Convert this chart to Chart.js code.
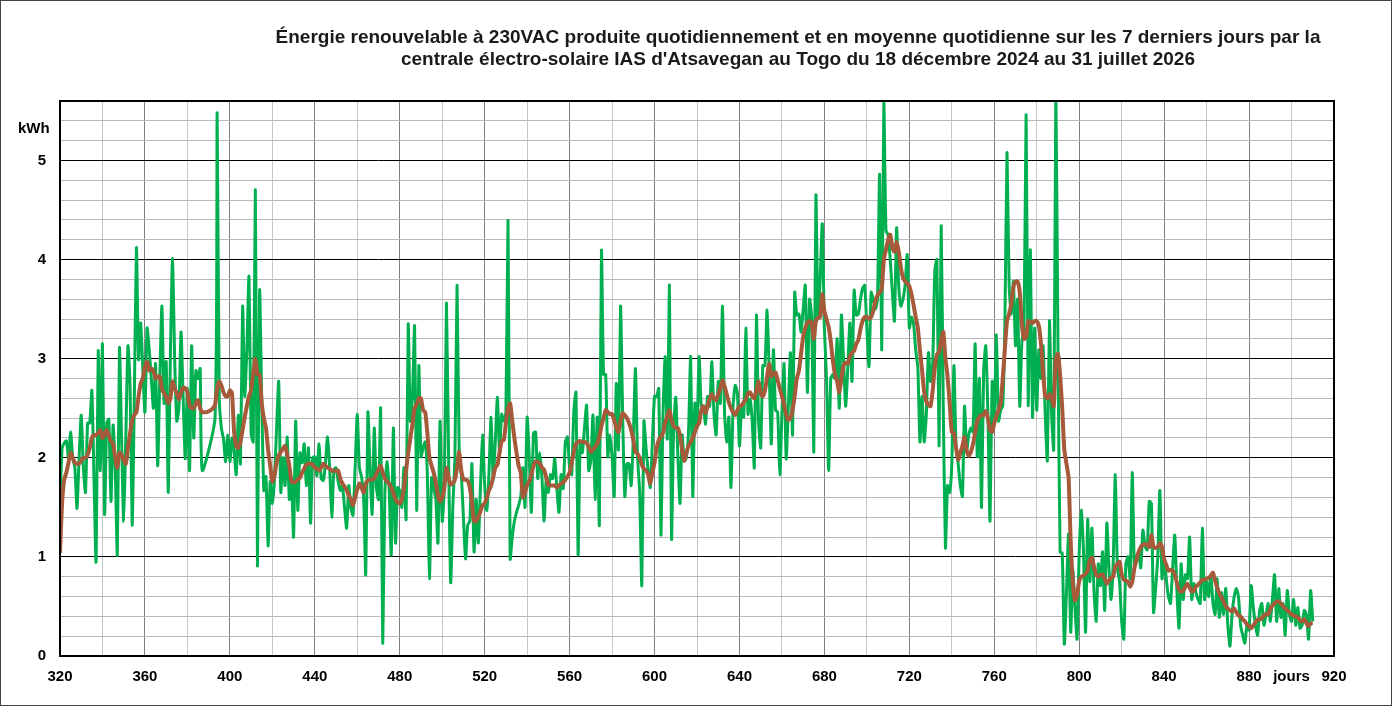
<!DOCTYPE html>
<html>
  <head>
    <meta charset="utf-8">
    <title>Énergie renouvelable IAS Atsavegan</title>
    <script src="https://cdn.jsdelivr.net/npm/chart.js@4.4.1/dist/chart.umd.min.js"></script>
    <style>
      body { margin: 0; background: #fff; }
      #wrap { position: relative; width: 1392px; height: 707px; }
      #frame { position: absolute; left: 0; top: 0; width: 1392px; height: 706px; box-sizing: border-box; border: 1px solid #444; pointer-events: none; }
      #title { position: absolute; left: 148px; top: 26px; width: 1300px; text-align: center;
               font: bold 19px "Liberation Sans", Arial, sans-serif; line-height: 22.4px; color: #1a1a1a; }
      #unit { position: absolute; left: 18px; top: 119px; font: bold 15px "Liberation Sans", Arial, sans-serif; line-height: 18px; color: #000; }
    </style>
  </head>
  <body>
    <div id="wrap">
      <canvas id="energie"></canvas>
      <div id="title">Énergie renouvelable à 230VAC produite quotidiennement et en moyenne quotidienne sur les 7 derniers jours par la<br>centrale électro-solaire IAS d'Atsavegan au Togo du 18 décembre 2024 au 31 juillet 2026</div>
      <div id="unit">kWh</div>
      <div id="frame"></div>
    </div>
    <script>
      // jour de départ de la série (axe des x = numéro du jour)
      var firstDay = 320;

      // énergie produite chaque jour (kWh), null = pas de mesure
      var daily = [
        1.54, 2.10, 2.15, 2.17, 2.00, 2.26, 2.00, 1.90, 1.49, 2.00, // 320
        2.43, 1.90, 1.65, 2.35, 2.35, 2.68, 1.80, 0.95, 3.08, 1.87, // 330
        3.15, 1.43, 2.35, 2.39, 1.56, 2.33, 1.90, 1.02, 3.11, 2.19, // 340
        1.36, 2.20, 3.13, 2.73, 1.32, 2.60, 4.12, 2.99, 3.36, 2.90, // 350
        2.46, 3.31, 3.10, 2.80, 2.50, 2.95, 1.92, 2.80, 3.53, 2.55, // 360
        2.97, 1.65, 3.06, 4.01, 3.00, 2.37, 2.50, 3.27, 2.60, 1.99, // 370
        2.70, 1.87, 3.13, 2.20, 2.88, 2.80, 2.90, 1.87, null, null, // 380
        null, null, null, 2.40, 5.48, 2.60, 2.30, 2.19, 1.96, 2.23, // 390
        1.96, 2.20, 2.06, 1.83, 2.43, 1.94, 3.53, 2.62, 3.09, 3.83, // 400
        2.25, 2.16, 4.70, 0.91, 3.69, 2.60, 1.67, 1.81, 1.11, 1.76, // 410
        1.54, 1.78, 2.30, 2.77, 1.65, 2.00, 1.72, 2.21, 1.58, 1.80, // 420
        1.20, 2.37, 1.47, 2.05, 1.95, 2.14, 1.72, 2.10, 1.34, 2.00, // 430
        2.01, 1.82, 2.14, 1.79, 1.77, 1.94, 2.21, 1.90, 1.40, 1.88, // 440
        1.90, 1.76, 1.67, 1.72, 1.50, 1.29, 1.72, 1.49, 1.42, 1.90, // 450
        2.44, 1.90, 1.81, 1.60, 0.82, 2.46, 1.90, 1.43, 2.30, 1.70, // 460
        1.58, 2.50, 0.13, 1.65, 1.96, 1.70, 1.02, 2.30, 1.14, 1.70, // 470
        1.67, 1.50, 1.90, 1.38, 3.35, 2.37, 2.62, 3.33, 1.47, 2.93, // 480
        2.01, 2.10, 2.16, 1.83, 0.78, 1.80, 1.70, 1.58, 1.14, 2.37, // 490
        1.36, 1.70, 3.56, 2.01, 0.74, 1.50, 2.01, 3.74, 2.05, 1.83, // 500
        1.40, 0.98, 1.32, 1.36, 1.94, 1.05, 1.58, 1.14, 1.69, 2.23, // 510
        1.72, 1.47, 1.83, 2.41, 1.79, 2.16, 2.61, 2.05, 2.44, 2.37, // 520
        2.46, 4.39, 0.98, 1.20, 1.36, 1.45, 1.52, 1.61, 1.90, 1.50, // 530
        2.41, 2.00, 1.45, 2.25, 2.26, 1.79, 2.05, 1.79, 1.36, 1.79, // 540
        1.65, 1.83, 1.79, 1.99, 1.69, 1.45, 1.83, 1.69, 2.16, 2.21, // 550
        1.90, 1.83, 2.48, 2.66, 1.02, 2.16, 2.05, 2.30, 2.53, 1.87, // 560
        1.97, 2.43, 1.58, 2.41, 1.32, 4.09, 2.84, 2.84, 2.01, 2.23, // 570
        2.01, 1.61, 2.75, 2.08, 3.53, 2.41, 1.61, 1.94, 1.94, 1.72, // 580
        2.20, 2.90, 2.01, 1.65, 0.71, 2.37, 2.10, 1.87, 1.70, 2.16, // 590
        2.62, 2.62, 2.70, 1.22, 2.44, 3.02, 2.19, 3.74, 1.18, 2.30, // 600
        2.61, 2.01, 1.54, 2.23, 1.97, 2.00, 2.26, 3.02, 1.61, 2.55, // 610
        2.30, 3.02, 2.52, 2.52, 2.34, 2.62, 2.52, 2.97, 2.44, 2.23, // 620
        2.77, 2.55, 3.53, 2.44, 2.16, 2.41, 1.70, 2.52, 2.73, 2.66, // 630
        2.12, 2.50, 2.41, 3.31, 2.44, 2.59, 2.37, 1.90, 3.44, 2.37, // 640
        2.10, 2.93, 2.93, 3.49, 2.88, 2.14, 3.09, 2.48, 2.46, 1.83, // 650
        2.44, 2.95, 1.99, 2.50, 3.06, 2.23, 3.67, 3.44, 3.45, 3.27, // 660
        3.50, 3.74, 2.66, 3.60, 3.42, 2.06, 4.65, 3.42, 3.80, 4.36, // 670
        3.30, 2.80, 1.87, 2.80, 2.84, 2.80, 3.20, 2.50, 3.44, 3.00, // 680
        2.52, 2.90, 3.36, 2.77, 3.69, 3.44, 3.45, 3.60, 3.71, 3.74, // 690
        3.30, 2.92, 3.67, 3.60, 3.50, 3.60, 4.86, 3.09, 5.58, 4.29, // 700
        4.25, 4.00, 3.67, 3.38, 4.32, 3.74, 3.53, 3.60, 3.74, 4.05, // 710
        3.31, 3.42, 3.35, 3.09, 2.91, 2.16, 2.62, 2.16, 2.44, 3.06, // 720
        2.77, 2.95, 3.89, 4.00, 2.12, 4.34, 2.48, 1.09, 1.72, 1.65, // 730
        1.94, 2.93, 2.12, 1.94, 1.72, 1.61, 2.52, 2.08, 2.23, 2.30, // 740
        2.26, 3.15, 2.01, 2.80, 1.50, 2.88, 3.13, 2.44, 1.36, 2.77, // 750
        2.41, 3.24, 2.37, 2.48, 2.52, 3.35, 5.08, 3.74, 3.45, 3.78, // 760
        3.13, 3.60, 2.52, 3.17, 3.31, 5.46, 2.53, 4.10, 2.41, 3.31, // 770
        2.48, 3.09, 2.80, 3.13, 2.44, 1.97, 3.38, 2.44, 2.08, 5.70, // 780
        3.13, 1.05, 1.04, 0.12, 0.64, 1.23, 0.24, 0.86, 0.49, 0.17, // 790
        1.04, 1.47, 1.07, 0.24, 1.38, 0.75, 1.29, 0.64, 0.35, 0.93, // 800
        0.71, 1.05, 0.46, 1.34, 0.90, 0.57, 0.93, 1.83, 0.89, 0.75, // 810
        0.35, 0.17, 0.93, 1.00, 0.78, 1.85, 0.89, 1.00, 1.04, 0.89, // 820
        1.27, 1.11, 1.07, 1.56, 1.54, 0.44, 0.68, 1.00, 1.67, 0.78, // 830
        0.98, 0.78, 0.60, 0.53, 0.89, 1.22, 0.66, 0.28, 0.93, 0.57, // 840
        0.82, 0.78, 1.20, 0.57, 0.73, 0.64, 0.57, 0.53, 1.29, 0.57, // 850
        0.75, 0.60, 0.82, 0.53, 0.42, 0.78, 0.39, 0.64, 0.42, 0.68, // 860
        0.31, 0.10, 0.42, 0.60, 0.68, 0.60, 0.31, 0.21, 0.13, 0.31, // 870
        0.26, 0.71, 0.49, 0.31, 0.21, 0.46, 0.53, 0.31, 0.42, 0.53, // 880
        0.35, 0.57, 0.82, 0.35, 0.68, 0.39, 0.53, 0.21, 0.66, 0.42, // 890
        0.35, 0.57, 0.31, 0.49, 0.28, 0.31, 0.46, 0.42, 0.17, 0.66, // 900
        0.35                                                        // 910
      ];

      var weekly = [
        1.04, 1.55, 1.78, 1.85, 1.95, 2.05, 2.00, 1.95, 1.94, 1.94, // 320
        1.97, 2.00, 2.00, 2.03, 2.10, 2.20, 2.23, 2.23, 2.25, 2.28, // 330
        2.20, 2.24, 2.28, 2.22, 2.17, 2.14, 2.00, 1.90, 2.05, 2.03, // 340
        1.98, 1.94, 2.10, 2.25, 2.38, 2.43, 2.46, 2.62, 2.75, 2.80, // 350
        2.92, 2.97, 2.88, 2.90, 2.88, 2.80, 2.82, 2.82, 2.70, 2.65, // 360
        2.62, 2.55, 2.60, 2.77, 2.70, 2.65, 2.59, 2.66, 2.71, 2.70, // 370
        2.66, 2.53, 2.50, 2.50, 2.55, 2.58, 2.50, 2.46, 2.46, 2.46, // 380
        2.47, 2.48, 2.50, 2.53, 2.70, 2.77, 2.73, 2.66, 2.62, 2.62, // 390
        2.68, 2.65, 2.26, 2.12, 2.10, 2.16, 2.28, 2.41, 2.52, 2.62, // 400
        2.68, 2.85, 3.00, 2.84, 2.84, 2.55, 2.40, 2.30, 2.08, 1.92, // 410
        1.76, 1.82, 1.95, 2.02, 2.06, 2.09, 2.12, 2.03, 1.92, 1.76, // 420
        1.75, 1.76, 1.78, 1.80, 1.85, 1.89, 1.93, 1.94, 1.94, 1.93, // 430
        1.90, 1.89, 1.87, 1.90, 1.94, 1.92, 1.90, 1.89, 1.87, 1.87, // 440
        1.87, 1.87, 1.79, 1.74, 1.71, 1.67, 1.62, 1.58, 1.52, 1.60, // 450
        1.68, 1.74, 1.70, 1.65, 1.74, 1.77, 1.78, 1.78, 1.79, 1.84, // 460
        1.88, 1.92, 1.85, 1.79, 1.76, 1.74, 1.70, 1.64, 1.58, 1.55, // 470
        1.54, 1.58, 1.70, 1.88, 2.05, 2.20, 2.34, 2.50, 2.54, 2.60, // 480
        2.60, 2.48, 2.46, 2.25, 2.00, 1.92, 1.85, 1.75, 1.62, 1.56, // 490
        1.60, 1.70, 1.90, 1.80, 1.73, 1.74, 1.78, 1.90, 2.06, 1.87, // 500
        1.78, 1.78, 1.77, 1.70, 1.55, 1.36, 1.36, 1.40, 1.46, 1.52, // 510
        1.54, 1.60, 1.67, 1.72, 1.80, 1.90, 1.93, 2.05, 2.17, 2.18, // 520
        2.35, 2.50, 2.55, 2.37, 2.20, 2.05, 1.92, 1.85, 1.60, 1.65, // 530
        1.73, 1.76, 1.83, 1.92, 1.96, 1.96, 1.94, 1.90, 1.88, 1.80, // 540
        1.73, 1.72, 1.72, 1.72, 1.70, 1.72, 1.74, 1.75, 1.78, 1.81, // 550
        1.85, 1.95, 2.06, 2.14, 2.16, 2.17, 2.16, 2.16, 2.15, 2.11, // 560
        2.06, 2.08, 2.11, 2.14, 2.21, 2.32, 2.40, 2.48, 2.46, 2.44, // 570
        2.44, 2.38, 2.30, 2.26, 2.37, 2.45, 2.43, 2.40, 2.35, 2.28, // 580
        2.18, 2.06, 2.04, 2.00, 1.93, 1.89, 1.87, 1.83, 1.74, 1.85, // 590
        1.95, 2.10, 2.18, 2.21, 2.25, 2.35, 2.42, 2.48, 2.38, 2.32, // 600
        2.30, 2.30, 2.22, 2.08, 1.97, 2.05, 2.12, 2.16, 2.20, 2.26, // 610
        2.32, 2.35, 2.48, 2.52, 2.45, 2.52, 2.60, 2.64, 2.60, 2.58, // 620
        2.64, 2.70, 2.78, 2.72, 2.64, 2.56, 2.50, 2.46, 2.43, 2.48, // 630
        2.52, 2.53, 2.56, 2.59, 2.65, 2.66, 2.62, 2.60, 2.68, 2.77, // 640
        2.65, 2.62, 2.68, 2.82, 2.95, 2.82, 2.85, 2.86, 2.78, 2.70, // 650
        2.62, 2.54, 2.44, 2.38, 2.40, 2.48, 2.62, 2.80, 2.88, 3.05, // 660
        3.22, 3.31, 3.36, 3.38, 3.36, 3.20, 3.38, 3.41, 3.42, 3.65, // 670
        3.48, 3.40, 3.32, 3.17, 2.98, 2.84, 2.77, 2.66, 2.80, 2.93, // 680
        2.96, 2.95, 3.02, 3.06, 3.08, 3.15, 3.19, 3.30, 3.38, 3.42, // 690
        3.42, 3.40, 3.42, 3.48, 3.58, 3.64, 3.67, 3.70, 4.00, 4.10, // 700
        4.20, 4.25, 4.12, 4.08, 4.18, 4.08, 3.92, 3.82, 3.78, 3.76, // 710
        3.73, 3.65, 3.54, 3.42, 3.31, 3.08, 2.88, 2.66, 2.57, 2.53, // 720
        2.52, 2.68, 2.92, 3.04, 3.07, 3.18, 3.27, 3.00, 2.82, 2.55, // 730
        2.26, 2.25, 2.10, 1.98, 2.05, 2.12, 2.21, 2.07, 2.02, 2.06, // 740
        2.14, 2.26, 2.37, 2.41, 2.43, 2.43, 2.47, 2.40, 2.28, 2.26, // 750
        2.35, 2.42, 2.48, 2.55, 2.80, 3.10, 3.38, 3.45, 3.55, 3.72, // 760
        3.78, 3.78, 3.67, 3.35, 3.20, 3.22, 3.38, 3.37, 3.36, 3.38, // 770
        3.38, 3.33, 3.15, 2.85, 2.62, 2.60, 2.64, 2.60, 2.52, 3.00, // 780
        3.05, 2.84, 2.50, 2.08, 1.94, 1.80, 1.15, 0.75, 0.56, 0.62, // 790
        0.76, 0.80, 0.81, 0.83, 0.86, 0.97, 0.99, 0.90, 0.82, 0.80, // 800
        0.82, 0.82, 0.78, 0.73, 0.76, 0.79, 0.80, 0.90, 0.93, 0.95, // 810
        0.82, 0.77, 0.76, 0.75, 0.70, 0.75, 0.89, 0.97, 1.05, 1.10, // 820
        1.12, 1.13, 1.12, 1.10, 1.22, 1.10, 1.09, 1.10, 1.14, 1.10, // 830
        0.98, 0.92, 0.86, 0.87, 0.86, 0.82, 0.74, 0.67, 0.65, 0.66, // 840
        0.70, 0.73, 0.69, 0.65, 0.66, 0.70, 0.72, 0.74, 0.77, 0.77, // 850
        0.78, 0.79, 0.81, 0.84, 0.76, 0.69, 0.63, 0.59, 0.55, 0.50, // 860
        0.48, 0.46, 0.45, 0.48, 0.44, 0.41, 0.40, 0.37, 0.35, 0.32, // 870
        0.30, 0.28, 0.31, 0.34, 0.37, 0.37, 0.38, 0.41, 0.42, 0.42, // 880
        0.47, 0.51, 0.53, 0.55, 0.55, 0.53, 0.50, 0.48, 0.46, 0.44, // 890
        0.42, 0.41, 0.40, 0.39, 0.36, 0.35, 0.37, 0.33, 0.30, 0.33, // 900
        0.33                                                        // 910
      ];

      // axes
      var xMin = 320, xMax = 920, xStep = 20, xLabelStep = 40;
      var yMin = 0, yMax = 5.6, yStep = 0.2;
      var xAxisWord = 'jours', xAxisWordAt = 900;

      function toPoints(values) {
        return values.map(function(v, i) { return {x: firstDay + i, y: v}; });
      }

      function isWhole(v) { return Math.abs(v - Math.round(v)) < 1e-6; }

      var tickFont = {family: '"Liberation Sans", Arial, sans-serif', size: 15, weight: 'bold'};

      // cadre noir autour de la zone de tracé
      var plotFrame = {
        id: 'plotFrame',
        afterDatasetsDraw: function(chart) {
          var a = chart.chartArea, ctx = chart.ctx;
          ctx.save();
          ctx.strokeStyle = '#000';
          ctx.lineWidth = 2;
          ctx.strokeRect(a.left, a.top, a.right - a.left, a.bottom - a.top);
          ctx.restore();
        }
      };

      new Chart('energie', {
        type: 'line',
        data: {
          datasets: [
            {
              label: 'Moyenne sur 7 jours',
              data: toPoints(weekly),
              borderColor: '#a65a3a',
              borderWidth: 4,
              pointRadius: 0,
              tension: 0.2,
              borderJoinStyle: 'round'
            },
            {
              label: 'Énergie quotidienne',
              data: toPoints(daily),
              borderColor: '#00b050',
              borderWidth: 3,
              pointRadius: 0,
              tension: 0.2,
              spanGaps: true,
              borderJoinStyle: 'round'
            }
          ]
        },
        options: {
          responsive: true,
          maintainAspectRatio: false,
          animation: false,
          layout: {padding: {left: 0, right: 58, top: 101, bottom: 0}},
          plugins: {legend: {display: false}, tooltip: {enabled: false}},
          scales: {
            x: {
              type: 'linear',
              min: xMin,
              max: xMax,
              afterFit: function(s) { s.height = 51; },
              border: {display: false},
              grid: {
                drawTicks: false,
                color: function(c) { return (c.tick.value - xMin) % xLabelStep === 0 ? '#7f7f7f' : '#c6c6c6'; }
              },
              ticks: {
                stepSize: xStep,
                autoSkip: false,
                maxRotation: 0,
                padding: 12,
                color: '#000',
                font: tickFont,
                callback: function(v) {
                  if (v === xAxisWordAt) return xAxisWord;
                  return (v - xMin) % xLabelStep === 0 ? String(v) : '';
                }
              }
            },
            y: {
              min: yMin,
              max: yMax,
              afterFit: function(s) { s.width = 60; },
              border: {display: false},
              grid: {
                drawTicks: false,
                color: function(c) { return isWhole(c.tick.value) ? '#000' : '#b9b9b9'; }
              },
              ticks: {
                stepSize: yStep,
                autoSkip: false,
                padding: 14,
                color: '#000',
                font: tickFont,
                callback: function(v) { return isWhole(v) ? String(Math.round(v)) : ''; }
              }
            }
          }
        },
        plugins: [plotFrame]
      });
    </script>
  </body>
</html>
